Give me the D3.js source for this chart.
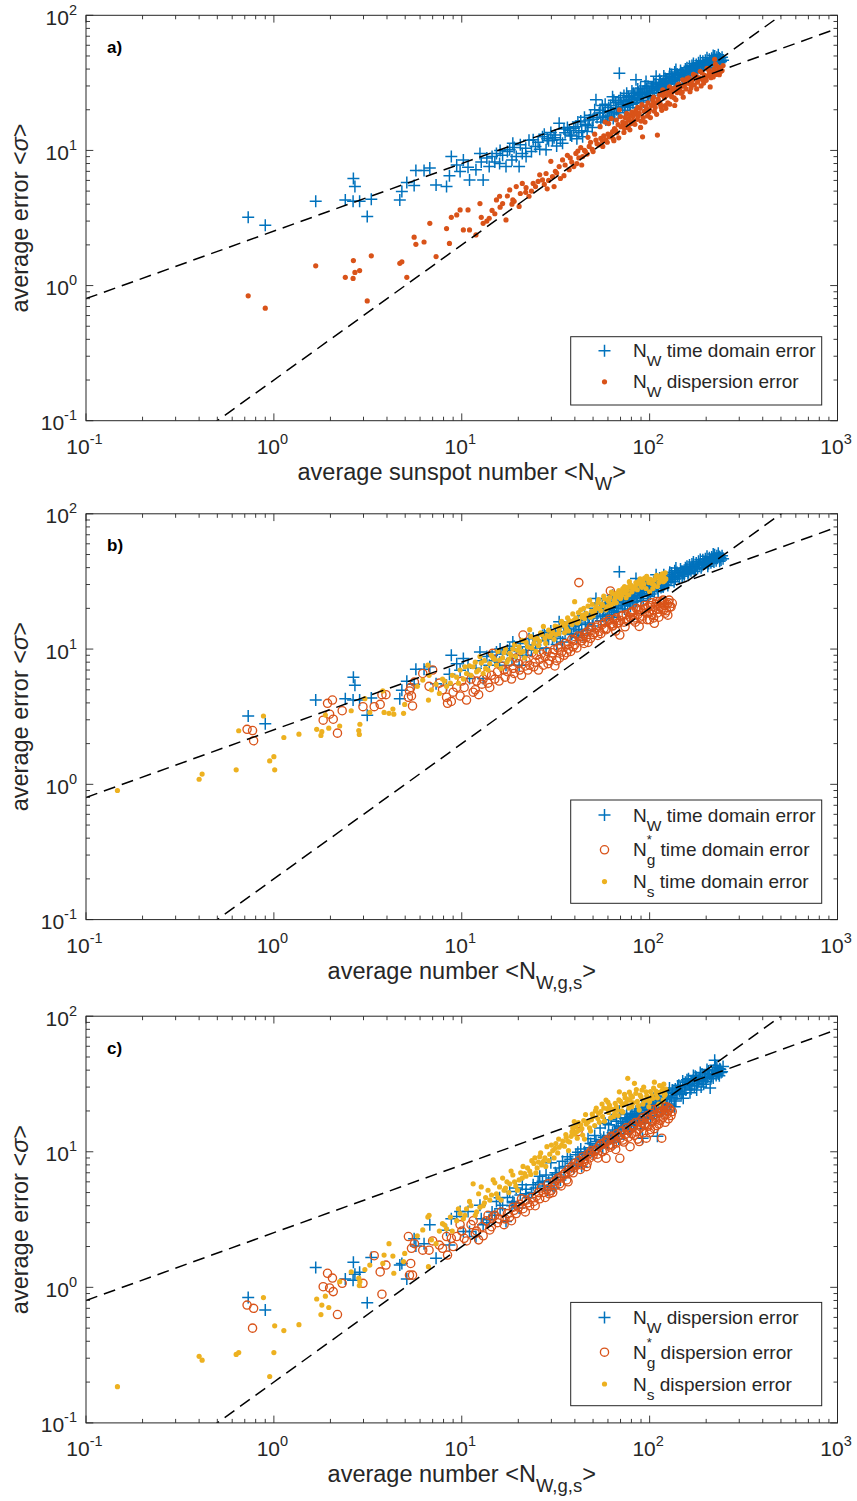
<!DOCTYPE html>
<html>
<head>
<meta charset="utf-8">
<script src="https://cdn.jsdelivr.net/npm/d3@7"></script>
<style>
  body { margin: 0; background: #fff; }
  svg text { font-family: "Liberation Sans", Arial, Helvetica, sans-serif; fill: #262626; white-space: pre; }
</style>
</head>
<body>
<div id="chart"></div>
<script>
// rows: [average number, time domain error, dispersion error]
const nwData = [
  [0.73,3.2,0.84],[0.9,2.8,0.68],[1.67,4.2,1.4],[2.4,4.3,1.15],[2.64,4.2,1.13],[2.65,6.2,1.53],[2.7,5.4,1.25],
  [2.86,4.2,1.29],[3.14,3.24,0.77],[3.3,4.35,1.66],[4.68,4.3,1.46],[4.8,4.96,1.5],[5.1,5.78,1.15],[5.58,5.5,2.28],
  [5.7,7.1,2.02],[6.3,7.1,2.1],[6.76,7.4,2.89],[7.3,5.55,1.64],[8.3,5.4,2.64],[8.6,6.5,2.05],[8.8,9.0,3.2],
  [9.4,7.8,3.33],[9.8,6.97,3.63],[10.2,8.5,2.58],[10.8,7.5,3.63],[11.0,6.05,2.58],[11.9,7.2,2.37],[12.5,9.5,4.04],
  [12.7,8.2,3.2],[13.0,6.05,2.89],[13.6,8.8,3.0],[14.0,7.6,3.15],[14.5,9.0,3.6],[15.0,8.2,3.4],[15.3,9.5,4.3],
  [15.9,8.0,4.58],[16.0,10.0,3.8],[16.5,9.2,4.04],[17.2,7.6,3.06],[17.5,9.8,4.6],[18.0,10.1,5.1],[18.5,8.5,4.0],
  [18.7,11.3,4.3],[19.0,10.5,4.2],[19.5,9.0,5.4],[20.2,7.6,3.85],[20.5,11.0,4.8],[21.0,9.5,5.7],[21.9,10.4,4.9],
  [22.0,9.0,5.3],[22.8,11.9,4.58],[23.5,9.8,5.0],[24.0,12.0,5.7],[24.7,10.7,5.4],[25.5,11.5,5.9],[26.0,10.2,6.6],
  [26.9,12.6,6.05],[27.5,13.2,5.6],[28.1,10.1,6.75],[28.5,12.2,5.2],[29.0,11.8,6.0],[29.8,13.6,8.3],[30.4,11.9,6.4],
  [31.0,12.4,5.4],[31.5,13.0,7.0],[32.0,10.8,6.8],[33.0,15.9,7.6],[33.5,12.0,6.2],[34.4,11.3,8.5],[35.0,14.4,6.5],
  [35.5,13.5,7.8],[36.5,14.8,9.2],[37.3,14.1,7.2],[37.8,13.0,8.8],[38.5,12.8,8.2],[39.5,14.6,7.6],[40.5,15.0,9.5],
  [41.0,12.2,8.0],[41.5,16.2,9.9],[42.0,13.6,8.8],[43.0,16.5,10.5],[43.5,14.0,7.8],[44.0,12.6,9.0],[45.0,17.6,10.0],
  [45.5,15.6,9.8],[46.5,13.8,9.4],[47.0,15.2,12.5],[47.7,16.8,10.7],[48.5,18.2,11.5],[49.5,14.8,10.2],[50.0,17.0,9.8],
  [51.0,20.0,13.2],[51.8,23.7,11.9],[52.5,17.5,11.2],[53.9,18.9,11.0],[54.5,19.8,15.0],[55.0,16.2,12.3],[56.0,21.5,11.8],
  [56.3,17.5,10.7],[57.0,19.0,12.8],[58.0,22.0,16.2],[58.5,16.8,12.0],[59.5,18.0,11.5],[60.0,19.5,13.2],[60.5,20.8,15.8],
  [61.1,17.8,12.6],[62.0,21.5,13.0],[62.5,19.2,17.2],[63.5,25.0,13.8],[64.0,17.2,12.2],[64.5,23.5,11.8],[65.0,18.6,14.5],
  [66.0,22.5,14.0],[66.5,20.0,16.8],[67.0,20.5,13.5],[68.0,19.0,15.5],[68.5,22.8,12.4],[69.0,37.3,20.0],[70.0,24.5,17.8],
  [70.5,22.0,15.0],[71.9,21.1,16.2],[72.5,23.5,15.3],[73.0,25.5,13.6],[73.5,19.8,14.6],[74.0,21.0,17.5],[75.0,23.0,16.0],
  [75.5,26.5,18.8],[76.5,21.5,17.2],[77.0,25.0,14.8],[78.0,23.7,16.8],[78.5,22.0,14.2],[79.0,20.8,18.2],[80.0,24.5,15.8],
  [80.5,27.5,19.2],[81.5,22.3,17.8],[82.0,26.5,16.4],[83.0,25.5,18.5],[83.5,24.0,15.6],[84.6,33.3,19.9],[85.0,22.5,19.0],
  [86.0,24.0,17.0],[86.5,28.5,20.8],[87.0,27.0,18.0],[88.0,26.0,18.8],[89.0,24.8,20.5],[89.5,29.0,14.8],[90.0,23.5,16.5],
  [91.0,25.8,21.8],[91.7,26.5,12.6],[92.5,22.8,17.5],[93.5,27.5,19.5],[94.5,30.0,16.2],[95.7,32.3,21.1],[96.5,28.5,20.2],
  [97.5,25.0,18.0],[98.0,29.8,22.5],[99,24.5,19.2],[100,27.0,20.0],[101,25.5,17.5],[102,29.0,21.5],[103.9,29.6,23.7],
  [104,27.8,22.0],[105,31.5,24.8],[106,26.5,19.5],[107,31.0,20.8],[108.3,35.4,22.5],[109,29.2,18.5],[110,28.0,13.0],
  [111,26.8,24.0],[112,30.5,23.0],[113,33.5,25.8],[114,32.0,22.0],[115,28.5,21.0],[116,30.0,19.8],[117.5,31.3,28.1],
  [118,28.8,25.5],[119,35.5,27.2],[120,30.0,24.5],[121,34.0,21.5],[122,31.8,20.5],[123,33.0,25.5],[125,29.5,22.5],
  [126,31.0,27.0],[127.5,35.4,29.6],[128,37.0,22.0],[130,32.5,26.0],[131,36.5,25.0],[132,33.8,28.6],[133,34.5,27.5],
  [135,31.5,24.5],[136,38.0,21.5],[137,33.0,29.0],[138,39.7,23.7],[140,36.8,26.8],[141,35.0,30.5],[143,36.0,31.0],
  [144,33.5,28.0],[146,39.0,29.5],[147,37.5,26.5],[149,34.5,27.0],[150,37.3,33.3],[151,36.2,24.8],[153,35.5,30.0],
  [155,40.0,32.5],[156,38.5,28.5],[158,41.0,34.0],[160,36.0,31.5],[161,37.0,34.5],[163,41.9,31.3],[164,39.2,27.2],
  [166,38.0,29.0],[168,42.5,31.0],[170,40.5,33.5],[171,44.0,36.5],[173,37.5,30.5],[175,39.0,36.0],[177,43.3,35.4],
  [178,41.5,28.5],[180,39.5,32.0],[182,44.5,33.5],[184,42.0,34.5],[186,46.0,38.5],[188,40.0,30.0],[190,41.5,37.5],
  [192,45.8,33.3],[194,43.0,31.5],[196,42.5,36.0],[198,46.5,35.0],[200,44.0,33.0],[202,48.5,40.5],[204,41.0,35.5],
  [206,43.0,39.5],[208,47.3,37.3],[210,45.0,29.5],[212,43.5,34.5],[214,48.0,36.0],[216,46.0,38.0],[218,50.5,35.0],
  [220,44.0,40.0],[222,49.9,47.3],[224,47.0,43.5],[226,45.0,36.5],[228,49.0,42.0],[230,47.0,39.0],[232,51.0,37.5],
  [235,48.3,36.3],[236,44.5,41.0],[238,47.5,40.5],[240,45.5,38.5],[243,49.0,39.0],[246,46.5,42.5]
];

const ngData = [
  [0.72,2.55,0.74],[0.77,2.5,0.5],[0.78,2.1,0.7],[1.83,2.98,1.01],[1.93,3.97,1.27],[1.98,3.3,0.99],[2.05,4.2,1.17],
  [2.07,3.03,0.93],[2.18,2.39,0.63],[2.31,3.5,1.07],[2.98,3.75,1.07],[3.42,3.75,1.71],[3.68,3.9,1.3],[3.76,4.6,0.89],
  [3.95,4.6,1.46],[5.2,4.4,2.37],[5.27,4.9,1.23],[5.35,5.2,1.5],[5.4,4.5,1.94],[5.47,3.8,1.23],[5.6,5.7,2.1],
  [6.2,6.6,1.88],[6.7,5.3,1.88],[7.0,7.0,2.2],[7.6,5.6,2.05],[7.9,5.0,1.94],[8.3,4.4,2.37],[8.4,3.97,1.73],
  [8.8,4.1,2.3],[9.0,4.8,2.0],[9.4,5.2,2.37],[9.8,4.5,2.9],[10.0,5.8,2.6],[10.3,5.2,2.3],[10.6,4.2,2.2],[11.2,6.0,2.9],
  [11.5,4.8,3.1],[11.8,5.0,2.5],[12.0,5.8,2.6],[12.3,4.6,2.24],[12.8,5.5,2.8],[13.0,6.0,2.4],[13.5,6.5,3.1],
  [13.8,5.6,3.4],[14.1,5.2,2.65],[14.4,6.4,2.8],[14.6,9.3,3.3],[15.0,6.0,3.4],[15.5,6.8,3.0],[15.8,5.8,3.2],
  [16.2,7.5,3.6],[16.8,7.0,2.9],[17.0,6.2,3.2],[17.5,6.8,3.5],[18.0,8.0,3.3],[18.4,6.0,3.1],[18.8,7.2,3.9],
  [19.0,6.6,3.7],[19.5,8.6,3.5],[20.0,7.8,3.9],[20.3,7.0,4.1],[20.8,6.4,4.5],[21.2,12.7,3.8],[21.8,7.5,3.6],
  [22.0,8.2,4.4],[22.5,7.0,4.2],[23.0,7.6,4.0],[23.6,9.4,4.6],[24.2,7.4,4.3],[24.6,8.0,4.0],[25.0,9.0,4.7],
  [25.6,7.0,5.0],[26.0,8.4,4.5],[26.5,9.2,5.4],[27.2,7.6,5.0],[27.8,8.8,4.6],[28.5,9.6,5.3],[28.8,7.8,5.8],
  [29.2,8.2,4.9],[30.0,8.8,5.2],[30.5,9.4,5.0],[31.0,9.9,6.0],[31.3,7.5,5.6],[32.0,8.2,6.2],[32.5,10.2,6.4],
  [33.2,8.6,5.8],[33.8,10.5,5.6],[34.0,9.5,6.6],[35.0,9.0,6.8],[35.5,11.0,7.0],[36.2,9.4,6.2],[36.8,10.8,6.0],
  [37.0,10.0,7.4],[38.0,9.6,7.2],[38.5,11.8,7.8],[39.2,10.4,7.0],[39.6,11.6,7.6],[40.0,10.8,8.2],[41.0,10.2,8.0],
  [41.6,12.5,14.1],[42.0,31.0,8.6],[42.8,12.4,7.4],[43.5,11.5,8.0],[44.2,12.0,9.2],[44.8,11.0,8.8],[45.0,13.0,8.5],
  [46.1,12.2,7.76],[46.5,13.4,8.2],[47.0,11.2,9.6],[48.0,13.8,9.0],[48.5,12.0,9.8],[49.0,14.5,10.2],[50.0,12.8,9.4],
  [50.8,13.2,10.0],[52.0,14.5,10.4],[52.8,15.0,9.6],[53.0,12.6,9.0],[54.0,13.5,11.0],[55.0,13.0,11.4],[56.0,15.2,10.0],
  [57.2,14.2,11.6],[57.8,15.8,10.4],[58.6,13.9,8.95],[59.0,14.2,12.2],[60.0,16.0,12.0],[61.0,16.6,11.2],[61.8,26.9,10.8],
  [62.5,15.4,13.0],[63.5,14.8,11.2],[64.0,15.0,12.8],[65.0,16.5,12.4],[66.0,13.6,10.4],[66.5,17.0,11.6],[67.0,15.5,13.6],
  [68.2,15.6,13.0],[69.4,12.7,8.95],[70.0,16.2,12.6],[71.0,17.5,14.2],[72.0,17.8,12.2],[73.0,15.8,11.8],[74.0,14.6,13.4],
  [75.0,18.0,15.0],[76.0,16.2,14.4],[77.0,16.5,12.8],[78.7,17.2,10.9],[79.5,18.5,14.6],[80.0,18.8,13.6],[81.0,19.0,15.8],
  [82.0,16.4,15.2],[83.0,17.0,13.2],[84.0,15.8,16.4],[85.0,20.0,14.0],[86.5,18.0,12.4],[87.5,19.5,14.6],[88.0,14.7,11.9],
  [89.0,17.2,16.8],[90.0,19.5,15.2],[91.0,16.6,16.2],[92.0,17.5,17.8],[93.0,19.8,13.8],[94.0,21.0,16.0],[95.0,20.0,15.8],
  [96.0,18.5,12.6],[97.0,16.5,18.5],[98.0,20.5,15.4],[99.0,18.5,17.4],[100,16.5,13.8],[101,21.0,14.6],[102,22.0,19.2],
  [103,18.0,16.6],[104,19.5,20.5],[105,17.0,18.4],[106,15.5,14.8],[107,20.5,18.0],[108,21.5,17.2],[109,22.5,15.6],
  [110,18.5,20.8],[111,19.8,19.2],[112,17.2,16.0],[113,22.5,21.3],[114,20.5,17.0],[115,21.8,19.5],[116,20.0,12.6],
  [117,22.2,20.2],[118,23.0,18.0],[119,19.5,21.5],[120,21.0,18.6],[121,18.4,16.5],[123,19.2,21.5],[124,21.5,19.0],
  [125,17.8,20.0],[126,22.0,17.5],[127,23.0,21.0],[128,20.5,20.6],[130,20.5,18.5],[132,21.8,19.8]
];

const nsData = [
  [0.147,0.9,0.185],[0.40,1.09,0.31],[0.415,1.19,0.29],[0.63,1.28,0.32],[0.65,2.49,0.33],[0.88,3.2,0.84],
  [0.95,1.49,0.22],[1.0,1.6,0.33],[1.01,1.28,0.52],[1.13,2.22,0.48],[1.36,2.35,0.53],[1.69,2.55,0.82],
  [1.78,2.3,0.63],[1.8,2.45,0.74],[1.88,3.25,0.86],[1.96,2.6,0.71],[2.24,2.7,1.1],[2.58,3.5,1.3],[2.83,2.5,1.17],
  [2.85,2.34,1.03],[2.87,2.78,1.1],[3.05,4.3,1.35],[3.24,3.4,1.46],[3.8,4.9,1.5],[3.86,3.4,1.73],[4.1,3.35,2.1],
  [4.3,3.6,1.7],[4.35,3.3,1.27],[4.9,3.35,1.55],[4.97,3.9,1.78],[5.8,5.3,2.4],[6.2,5.9,2.65],[6.6,7.6,3.3],
  [6.65,4.2,1.42],[6.7,6.4,3.4],[6.9,5.0,2.24],[7.3,5.5,2.1],[7.6,4.7,2.6],[7.9,6.0,2.95],[8.1,5.8,2.88],
  [8.3,5.3,2.7],[8.7,5.6,3.3],[8.9,6.4,2.6],[9.4,6.2,3.1],[9.6,5.6,3.8],[9.8,7.0,3.5],[10.2,6.0,3.2],[10.4,7.4,3.4],
  [10.6,6.6,3.8],[11.0,7.5,4.3],[11.2,6.4,4.0],[11.5,7.4,5.8],[11.8,8.0,3.4],[12.0,6.8,3.6],[12.3,7.0,4.9],
  [12.5,8.8,3.9],[12.7,7.9,5.5],[13.0,6.6,4.0],[13.2,8.2,4.2],[13.4,7.2,4.6],[13.8,7.0,5.2],[14.1,7.8,4.4],
  [14.4,9.0,4.8],[14.7,8.6,6.2],[15.0,8.4,5.9],[15.3,7.6,4.9],[15.6,9.6,4.6],[15.9,8.3,5.5],[16.2,7.2,4.4],
  [16.5,8.6,6.4],[16.8,9.4,5.2],[17.1,10.0,5.4],[17.4,8.0,6.0],[17.8,8.4,5.0],[18.0,9.3,5.8],[18.3,9.0,7.2],
  [18.7,10.0,6.74],[19.1,10.8,6.0],[19.4,8.8,5.6],[19.8,9.8,5.2],[20.2,10.4,6.2],[20.6,9.4,7.0],[21.0,11.6,6.4],
  [21.2,9.6,7.8],[21.6,8.6,6.9],[22.0,11.2,6.6],[22.4,10.4,7.6],[23.0,13.9,7.2],[23.3,12.4,6.8],[23.6,10.2,8.6],
  [24.2,11.0,8.2],[24.5,11.8,9.0],[24.8,9.6,7.0],[25.2,12.0,7.6],[25.6,10.6,8.4],[26.0,11.4,9.2],[26.3,13.2,9.8],
  [26.6,12.8,8.0],[27.2,14.7,8.5],[27.7,12.0,9.0],[28.0,11.0,7.8],[28.4,12.6,10.9],[29.0,13.8,8.6],[29.4,12.3,9.6],
  [30.0,12.8,11.2],[30.5,13.4,10.2],[31.0,11.8,9.0],[31.4,14.8,10.6],[31.7,12.8,11.5],[32.4,14.6,9.8],[32.8,13.0,12.4],
  [33.0,13.9,10.8],[34.0,16.0,11.2],[34.5,15.0,12.0],[35.2,13.2,11.0],[35.8,15.4,13.4],[36.0,14.2,12.8],[36.6,17.0,12.0],
  [37.0,13.6,10.2],[37.5,16.2,11.8],[38.2,15.8,13.0],[38.6,15.2,14.0],[39.0,18.2,15.0],[39.7,16.4,16.7],[39.9,22.4,13.5],
  [40.5,17.0,15.3],[40.8,16.2,14.0],[41.2,15.6,12.6],[41.8,18.6,16.4],[42.0,16.0,14.4],[43.0,19.5,15.8],[43.6,17.2,14.8],
  [44.0,17.8,13.3],[44.6,20.0,17.0],[45.0,16.8,12.4],[45.6,18.0,18.8],[46.0,18.4,16.0],[47.0,20.8,16.6],[47.9,23.0,15.0],
  [48.5,17.2,14.2],[49.0,19.0,17.2],[49.5,21.4,19.0],[50.0,17.6,18.2],[51.0,18.6,15.6],[51.5,19.8,20.0],[52.0,20.5,21.0],
  [53.0,22.0,17.6],[53.5,23.2,19.2],[54.0,20.0,16.5],[55.0,19.2,19.8],[55.8,21.6,22.5],[56.2,21.0,18.2],[57.0,24.6,21.0],
  [57.5,23.5,16.8],[58.6,19.5,24.1],[59.5,20.6,20.8],[60.0,23.0,23.2],[60.5,22.5,19.5],[61.2,24.0,22.0],[62.0,21.0,17.8],
  [62.6,26.4,20.6],[63.6,25.7,20.5],[64.2,21.8,18.2],[65.0,23.0,19.0],[65.6,24.2,22.8],[66.5,22.0,21.5],[67.2,26.0,20.2],
  [68.0,24.5,18.5],[68.6,27.0,24.2],[69.0,26.5,27.7],[70.0,23.6,23.5],[71.0,25.0,20.0],[71.5,26.2,22.0],[72.0,28.0,19.6],
  [73.0,27.5,22.5],[73.5,29.0,26.5],[74.0,26.0,25.0],[75.0,24.0,22.9],[76.0,27.2,24.4],[76.5,28.5,34.8],[77.5,25.2,21.0],
  [78.0,31.5,27.5],[78.7,30.0,24.0],[79.5,29.5,26.0],[80.5,26.5,21.5],[81.0,28.2,25.4],[82.0,27.8,23.0],[83.0,29.0,32.0],
  [84.5,31.0,27.0],[85.0,30.0,28.8],[86.0,27.5,23.5],[87.0,30.5,21.8],[88.0,32.0,20.3],[89.0,33.0,26.2],[90.0,29.5,25.5],
  [91.0,28.6,28.5],[92.0,31.5,22.5],[93.0,30.2,30.0],[94.0,33.5,23.8],[95.7,28.0,27.7],[96.5,34.5,25.8],[97.5,33.0,24.5],
  [99.0,31.0,21.5],[100,26.5,23.4],[101,32.8,27.8],[103,30.5,26.0],[104,28.0,24.8],[105,30.0,29.5],[106,32.5,32.6],
  [108,34.5,28.0],[109,35.0,26.8],[110,29.0,25.0],[112,31.0,22.5],[113,33.0,30.8],[114,34.0,27.5],[116,35.5,30.5],
  [117,36.0,28.5],[118,31.5,24.0],[119,34.2,31.5],[120,32.0,26.0],[121,36.6,26.5],[122,33.0,29.0]
];

// dashed reference lines y = coef * x^power
const refLines = [
  { coef: 2.53, power: 0.5 },
  { coef: 0.2, power: 1 }
];

const xDomain = [0.1, 1000];
const yDomain = [0.1, 100];
const xMajor = [-1, 0, 1, 2, 3];
const yMajor = [-1, 0, 1, 2];

const blue = "#0072BD", orange = "#D95319", yellow = "#EDB120";
const axisColor = "#262626";

const X_LEFT = 86, X_RIGHT = 837.5;

const svg = d3.select("#chart").append("svg")
  .attr("width", 857)
  .attr("height", 1501);

function richText(sel, x, y, parts, size, anchor) {
  const t = sel.append("text")
    .attr("x", x).attr("y", y)
    .attr("font-size", size)
    .attr("text-anchor", anchor || "start");
  let shift = 0;
  parts.forEach((p) => {
    const target = p.shift || 0;
    const ts = t.append("tspan").text(p.t).attr("dy", target - shift);
    if (p.size) ts.attr("font-size", p.size);
    if (p.dx) ts.attr("dx", p.dx);
    if (p.italic) ts.attr("font-style", "italic");
    shift = target;
  });
  return t;
}

function drawMarker(sel, type, color) {
  if (type === "plus") {
    sel.append("path").attr("d", "M-6,0H6M0,-6V6")
      .attr("fill", "none").attr("stroke", color).attr("stroke-width", 1.5);
  } else if (type === "circle") {
    sel.append("circle").attr("r", 4.1)
      .attr("fill", "none").attr("stroke", color).attr("stroke-width", 1.35);
  } else {
    sel.append("circle").attr("r", 2.6).attr("fill", color);
  }
}

function legendName(label, sub, star) {
  const parts = [{ t: "N" }];
  if (star) {
    parts.push({ t: "*", size: 13, shift: -12 });
    parts.push({ t: sub, size: 15.5, shift: 9, dx: -5.1 });
  } else {
    parts.push({ t: sub, size: 15.5, shift: 9 });
  }
  parts.push({ t: " " + label, shift: 0 });
  return parts;
}

const xLabelA = [{ t: "average sunspot number <N" }, { t: "W", size: 18.5, shift: 10 }, { t: ">", shift: 0 }];
const xLabelBC = [{ t: "average number <N" }, { t: "W,g,s", size: 18.5, shift: 10 }, { t: ">", shift: 0 }];

const panels = [
  {
    tag: "a)", box: [15.3, 420.7], xLabel: xLabelA,
    series: [
      { rows: nwData, col: 1, type: "plus", color: blue, name: legendName("time domain error", "W") },
      { rows: nwData, col: 2, type: "dot", color: orange, name: legendName("dispersion error", "W") }
    ]
  },
  {
    tag: "b)", box: [513.8, 919.6], xLabel: xLabelBC,
    series: [
      { rows: nwData, col: 1, type: "plus", color: blue, name: legendName("time domain error", "W") },
      { rows: ngData, col: 1, type: "circle", color: orange, name: legendName("time domain error", "g", true) },
      { rows: nsData, col: 1, type: "dot", color: yellow, name: legendName("time domain error", "s") }
    ]
  },
  {
    tag: "c)", box: [1016.2, 1422.9], xLabel: xLabelBC,
    series: [
      { rows: nwData, col: 2, type: "plus", color: blue, name: legendName("dispersion error", "W") },
      { rows: ngData, col: 2, type: "circle", color: orange, name: legendName("dispersion error", "g", true) },
      { rows: nsData, col: 2, type: "dot", color: yellow, name: legendName("dispersion error", "s") }
    ]
  }
];

panels.forEach((panel, i) => {
  const top = panel.box[0], bottom = panel.box[1];
  const x = d3.scaleLog().domain(xDomain).range([X_LEFT, X_RIGHT]);
  const y = d3.scaleLog().domain(yDomain).range([bottom, top]);
  const g = svg.append("g").attr("class", "panel");

  const clipId = "clip" + i;
  svg.append("defs").append("clipPath").attr("id", clipId)
    .append("rect")
    .attr("x", X_LEFT).attr("y", top)
    .attr("width", X_RIGHT - X_LEFT).attr("height", bottom - top);

  const plot = g.append("g").attr("clip-path", `url(#${clipId})`);

  panel.series.forEach((s) => {
    plot.append("g")
      .selectAll("g.mark")
      .data(s.rows)
      .join("g")
      .attr("class", "mark")
      .attr("transform", (d) => `translate(${x(d[0])},${y(d[s.col])})`)
      .each(function () { drawMarker(d3.select(this), s.type, s.color); });
  });

  const line = d3.line().x((d) => x(d[0])).y((d) => y(d[1]));
  refLines.forEach((r) => {
    const pts = xDomain.map((v) => [v, r.coef * Math.pow(v, r.power)]);
    plot.append("path")
      .attr("d", line(pts))
      .attr("fill", "none")
      .attr("stroke", "#000")
      .attr("stroke-width", 1.5)
      .attr("stroke-dasharray", "12,7");
  });

  // ticks (inside, all four sides)
  const ticks = g.append("g").attr("stroke", axisColor).attr("stroke-width", 0.9);
  const minors = (exps) => {
    const out = [];
    exps.slice(0, -1).forEach((e) => {
      for (let k = 2; k <= 9; k++) out.push(k * Math.pow(10, e));
    });
    return out;
  };
  const xTickList = xMajor.map((e) => [Math.pow(10, e), 7.3]).concat(minors(xMajor).map((v) => [v, 4]));
  const yTickList = yMajor.map((e) => [Math.pow(10, e), 7.3]).concat(minors(yMajor).map((v) => [v, 4]));
  xTickList.forEach(([v, len]) => {
    const px = x(v);
    ticks.append("line").attr("x1", px).attr("x2", px).attr("y1", bottom).attr("y2", bottom - len);
    ticks.append("line").attr("x1", px).attr("x2", px).attr("y1", top).attr("y2", top + len);
  });
  yTickList.forEach(([v, len]) => {
    const py = y(v);
    ticks.append("line").attr("x1", X_LEFT).attr("x2", X_LEFT + len).attr("y1", py).attr("y2", py);
    ticks.append("line").attr("x1", X_RIGHT).attr("x2", X_RIGHT - len).attr("y1", py).attr("y2", py);
  });

  g.append("rect")
    .attr("x", X_LEFT).attr("y", top)
    .attr("width", X_RIGHT - X_LEFT).attr("height", bottom - top)
    .attr("fill", "none").attr("stroke", axisColor).attr("stroke-width", 1);

  // tick labels
  xMajor.forEach((e) => {
    richText(g, x(Math.pow(10, e)) - 1.5, bottom + 33.5,
      [{ t: "10" }, { t: String(e), size: 14.5, shift: -10.5 }], 21, "middle");
  });
  yMajor.forEach((e) => {
    richText(g, X_LEFT - 9, y(Math.pow(10, e)) + 9.5,
      [{ t: "10" }, { t: String(e), size: 14.5, shift: -10 }], 21, "end");
  });

  // axis labels
  richText(g, (X_LEFT + X_RIGHT) / 2, bottom + 59.3, panel.xLabel, 23.5, "middle");
  const yl = g.append("g").attr("transform", `translate(27.5,${(top + bottom) / 2}) rotate(-90)`);
  richText(yl, 0, 0, [{ t: "average error <" }, { t: "σ", italic: true }, { t: ">" }], 23.5, "middle");

  g.append("text")
    .attr("x", X_LEFT + 21).attr("y", top + 37.4)
    .attr("font-size", 17).attr("font-weight", "bold")
    .style("fill", "#000")
    .text(panel.tag);

  // legend
  const n = panel.series.length;
  const boxOff = n === 2 ? [321.4, 389.7] : [286.2, 389.5];
  const baseOff = n === 2 ? [342, 373] : [307.7, 342.5, 374.3];
  const leg = g.append("g");
  leg.append("rect")
    .attr("x", 570.7).attr("y", top + boxOff[0])
    .attr("width", 821.7 - 570.7).attr("height", boxOff[1] - boxOff[0])
    .attr("fill", "#fff").attr("stroke", axisColor).attr("stroke-width", 1);
  panel.series.forEach((s, j) => {
    const by = top + baseOff[j];
    const m = leg.append("g").attr("transform", `translate(604.5,${by - 6.5})`);
    drawMarker(m, s.type, s.color);
    richText(leg, 633, by, s.name, 19, "start");
  });
});
</script>
</body>
</html>
